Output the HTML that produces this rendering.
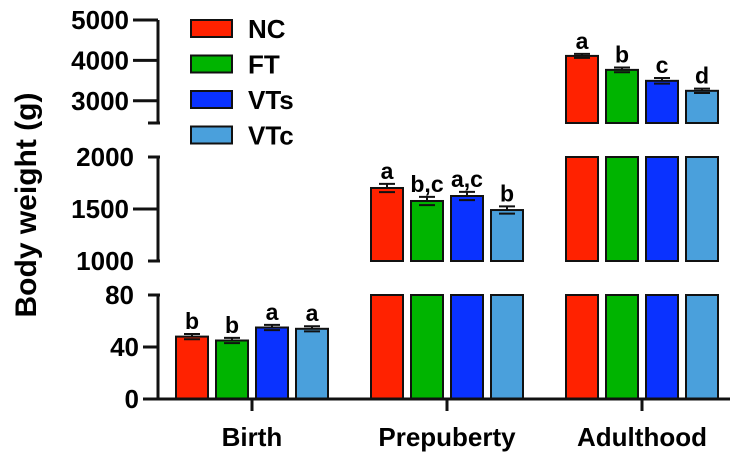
<!DOCTYPE html>
<html><head><meta charset="utf-8"><style>
body{margin:0;background:#fff}
svg text{font-family:"Liberation Sans",Arial,sans-serif;font-weight:bold;fill:#000}
</style></head><body>
<svg id="chart" width="745" height="455" viewBox="0 0 745 455" xmlns="http://www.w3.org/2000/svg"></svg>
<script>
const categories=["Birth","Prepuberty","Adulthood"];
const series=["NC","FT","VTs","VTc"];
const colors=["#ff2200","#00b400","#0a32ff","#4aa0dc"];
const valuesNC=[48,1702,4111];
const valuesFT=[45,1577,3765];
const valuesVTs=[55,1625,3494];
const valuesVTc=[54,1490,3247];
const errNC=[2,40,50];
const errFT=[2,40,60];
const errVTs=[2,40,70];
const errVTc=[2,35,55];
const lettersNC=["b","a","a"];
const lettersFT=["b","b,c","b"];
const lettersVTs=["a","a,c","c"];
const lettersVTc=["a","b","d"];
const ticksTop=[3000,4000,5000];
const ticksMid=[1000,1500,2000];
const ticksLow=[0,40,80];

const vals=[valuesNC,valuesFT,valuesVTs,valuesVTc];
const errs=[errNC,errFT,errVTs,errVTc];
const lets=[lettersNC,lettersFT,lettersVTs,lettersVTc];
const segs=[
 {d0:2450,d1:5000,y0:123,y1:20},
 {d0:1000,d1:2000,y0:261,y1:157},
 {d0:0,d1:80,y0:399,y1:295}
];
function ys(s,v){return s.y0+(v-s.d0)/(s.d1-s.d0)*(s.y1-s.y0);}
const AX=158;
function xGroup(i){return 252+i*195;}
function xBar(i,j){return xGroup(i)-76+j*40;}
const svg=document.getElementById('chart');
const NS="http://www.w3.org/2000/svg";
function mk(t,a,txt){const e=document.createElementNS(NS,t);for(const k in a)e.setAttribute(k,a[k]);if(txt!==undefined)e.textContent=txt;svg.appendChild(e);return e;}

for(let i=0;i<categories.length;i++){
 for(let j=0;j<series.length;j++){
  const v=vals[j][i];
  const x=xBar(i,j);
  segs.forEach((s,si)=>{
   if(v<=s.d0)return;
   const top=Math.max(s.y1,ys(s,Math.min(v,s.d1)));
   const r=mk('rect',{x:x,y:top,width:32,height:s.y0-top,fill:colors[j],stroke:'#111','stroke-width':2});
   
   
   if(v<=s.d1){
    const e=errs[j][i];const ye=ys(s,v+e);
    const eb=mk('path',{d:`M${x+16} ${top}V${ye}M${x+8} ${ye}H${x+24}M${x+8} ${ys(s,v-e)}H${x+24}`,stroke:'#111','stroke-width':2,fill:'none'});
    
    
    const t=mk('text',{x:x+16,y:ye-5,'text-anchor':'middle','font-size':23},lets[j][i]);
    
    
   }
  });
 }
}
const ax=mk('path',{d:`M${AX} 20V123M${AX} 157V261M${AX} 295V399M148 123H${AX+2}M148 157H${AX+2}M148 261H${AX+2}M148 295H${AX+2}M143 399H730`,stroke:'#111','stroke-width':3,fill:'none'});


const tickSets=[ticksTop,ticksMid,ticksLow];
tickSets.forEach((ts,si)=>{const s=segs[si];ts.forEach(t=>{
 const y=ys(s,t);
 const cap=(si===1&&(t===1000||t===2000))||(si===2&&t===80);
 const tx0=cap?148:(si===2?143:133);
 const l=mk('line',{x1:tx0,x2:AX,y1:y,y2:y,stroke:'#111','stroke-width':3});
 
 
 const tl=mk('text',{x:cap?134:tx0-4,y:y+9,'text-anchor':'end','font-size':26},String(t));
 
 
});});
categories.forEach((c,i)=>{
 const l=mk('line',{x1:xGroup(i),x2:xGroup(i),y1:399,y2:411,stroke:'#111','stroke-width':3});
 
 
 const t=mk('text',{x:xGroup(i),y:446,'text-anchor':'middle','font-size':26},c);
 
 
});
const yt=mk('text',{x:0,y:0,transform:'translate(36,205) rotate(-90)','text-anchor':'middle','font-size':30},'Body weight (g)');


series.forEach((s,j)=>{
 const y=20+j*35.5;
 const r=mk('rect',{x:191,y:y,width:41,height:17,fill:colors[j],stroke:'#111','stroke-width':2});
 
 
 const t=mk('text',{x:248,y:y+18,'font-size':26},s);
 
 
});
</script>
</body></html>
